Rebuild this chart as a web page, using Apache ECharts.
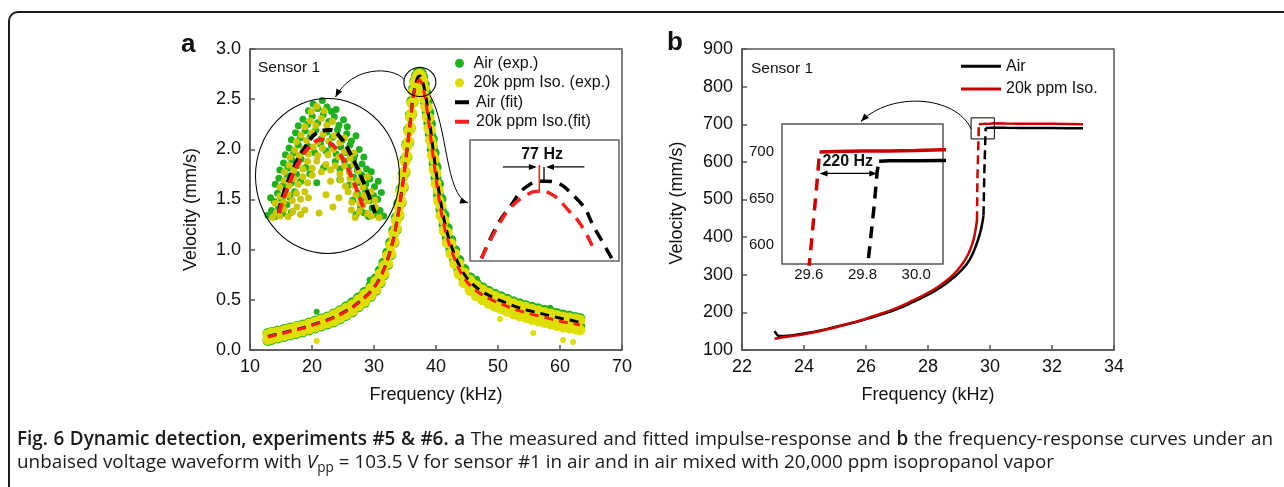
<!DOCTYPE html>
<html><head><meta charset="utf-8">
<script src="https://cdn.jsdelivr.net/npm/echarts@6/dist/echarts.min.js"></script>
<style>
html,body{margin:0;padding:0;background:#fff;width:1284px;height:487px;overflow:hidden;}
#frame{position:absolute;left:8px;top:11px;width:1400px;height:600px;border:2px solid #1a1a1a;border-radius:10px;box-sizing:border-box;}
#chart{position:absolute;left:0;top:0;width:1284px;height:487px;}
.cap{position:absolute;left:17px;font-family:'Open Sans',sans-serif;color:#1a1a1a;white-space:nowrap;line-height:22px;font-size:16px;}
.cap b{font-weight:600;}
.cap sub{font-size:0.72em;vertical-align:-0.3em;line-height:0;}
</style></head><body>
<div id="frame"></div>
<div id="chart"></div>
<div class="cap" id="cap1" style="top:427px"><b>Fig. 6 Dynamic detection, experiments #5 &amp; #6. a</b> The measured and fitted impulse-response and <b>b</b> the frequency-response curves under an</div>
<div class="cap" id="cap2" style="top:450px">unbaised voltage waveform with <i>V</i><sub>pp</sub> = 103.5 V for sensor #1 in air and in air mixed with 20,000 ppm isopropanol vapor</div>
<script>
// ================= DATA =================
// Panel a: impulse response (kHz, mm/s)
const expF = [12.9,13.5,14.5,15.5,16.5,17.5,18.5,19.5,20.5,21.5,22.5,23.5,24.5,25.5,26.5,27.5,28.5,29.5,30.3,31.0,31.6,32.2,32.7,33.2,33.6,34.0,34.35,34.7,35.0,35.3,35.6,35.85,36.1,36.35,36.6,36.85,37.1,37.35,37.6,37.85,38.1,38.35,38.6,38.85,39.1,39.4,39.7,40.0,40.4,40.8,41.3,41.8,42.4,43.0,43.7,44.5,45.5,46.5,47.5,48.5,49.5,50.5,51.5,52.5,53.5,54.5,55.5,56.5,57.5,58.5,59.5,60.5,61.5,62.5,63.2];
const airExpHi = [0.165,0.175,0.19,0.205,0.22,0.235,0.25,0.27,0.29,0.31, 0.33,0.36,0.39,0.43,0.47,0.52,0.575,0.64,0.71,0.79, 0.87,0.97,1.07,1.19,1.32,1.46,1.60,1.75,1.90,2.05, 2.20,2.34,2.48,2.60,2.68,2.73,2.76,2.77,2.76,2.72, 2.645,2.565,2.475,2.365,2.255,2.105,1.965,1.825,1.655,1.505, 1.345,1.215,1.095,0.995,0.895,0.805,0.72,0.665,0.62,0.585, 0.555,0.53,0.505,0.48,0.46,0.44,0.425,0.41,0.395,0.38, 0.365,0.35,0.34,0.325,0.315];
const airExpLo = [0.095,0.105,0.12,0.135,0.15,0.165,0.18,0.20,0.22,0.24, 0.26,0.28,0.31,0.345,0.38,0.43,0.475,0.535,0.595,0.67, 0.75,0.85,0.95,1.07,1.20,1.34,1.47,1.62,1.77,1.92, 2.07,2.21,2.35,2.47,2.56,2.62,2.66,2.67,2.66,2.61, 2.55,2.46,2.37,2.26,2.15,2.00,1.86,1.72,1.55,1.40, 1.25,1.12,1.00,0.90,0.80,0.71,0.63,0.575,0.535,0.50, 0.47,0.445,0.42,0.395,0.375,0.355,0.34,0.325,0.31,0.295, 0.28,0.265,0.255,0.245,0.235];
const isoExpHi = [0.155,0.17,0.18,0.195,0.21,0.23,0.24,0.26,0.28,0.30, 0.32,0.35,0.38,0.415,0.45,0.50,0.555,0.615,0.685,0.76, 0.84,0.94,1.04,1.16,1.29,1.43,1.58,1.73,1.88,2.03, 2.18,2.32,2.46,2.58,2.66,2.71,2.74,2.75,2.73,2.68, 2.61,2.52,2.42,2.31,2.19,2.04,1.90,1.76,1.59,1.44, 1.29,1.17,1.06,0.96,0.86,0.77,0.695,0.64,0.60,0.565, 0.535,0.51,0.485,0.46,0.44,0.425,0.405,0.39,0.375,0.36, 0.345,0.33,0.32,0.31,0.30];
const isoExpLo = [0.105,0.115,0.13,0.145,0.16,0.175,0.19,0.21,0.23,0.25, 0.27,0.29,0.32,0.355,0.39,0.44,0.485,0.545,0.605,0.68, 0.76,0.86,0.96,1.08,1.21,1.35,1.48,1.63,1.78,1.93, 2.08,2.22,2.36,2.47,2.55,2.60,2.63,2.64,2.62,2.57, 2.51,2.42,2.32,2.21,2.09,1.94,1.80,1.66,1.49,1.34, 1.19,1.07,0.96,0.86,0.76,0.67,0.595,0.54,0.50,0.465, 0.435,0.41,0.385,0.36,0.34,0.325,0.305,0.29,0.275,0.26, 0.245,0.23,0.22,0.21,0.20];
const airExpOut = [[20.75,0.38],[46.6,0.71],[58.4,0.42],[29.3,0.70]];
const isoExpOut = [[20.75,0.09],[55.7,0.17],[60.5,0.10],[62.1,0.08],[50.3,0.31]];
const airFit = [0.135,0.145,0.16,0.175,0.19,0.205,0.22,0.24,0.26,0.28, 0.30,0.325,0.355,0.39,0.425,0.475,0.525,0.585,0.65,0.725, 0.805,0.905,1.005,1.125,1.255,1.395,1.535,1.685,1.835,1.985, 2.14,2.28,2.42,2.54,2.62,2.68,2.72,2.73,2.72,2.67, 2.61,2.53,2.43,2.32,2.21,2.06,1.92,1.78,1.61,1.46, 1.30,1.17,1.05,0.95,0.85,0.76,0.68,0.625,0.58,0.545, 0.515,0.49,0.465,0.44,0.42,0.40,0.385,0.37,0.355,0.34, 0.325,0.31,0.30,0.285,0.275];
const isoFit = [0.13,0.14,0.155,0.17,0.185,0.20,0.215,0.235,0.255,0.275, 0.295,0.32,0.35,0.385,0.42,0.47,0.52,0.58,0.645,0.72, 0.80,0.90,1.00,1.12,1.25,1.39,1.53,1.68,1.83,1.98, 2.13,2.27,2.41,2.52,2.60,2.65,2.68,2.69,2.67,2.62, 2.56,2.47,2.37,2.26,2.14,1.99,1.85,1.71,1.54,1.39, 1.24,1.12,1.01,0.91,0.81,0.72,0.645,0.59,0.55,0.515, 0.485,0.46,0.435,0.41,0.39,0.375,0.355,0.34,0.325,0.31, 0.295,0.28,0.27,0.26,0.25];

// Circle inset (peak close-up) – measured points [kHz, mm/s]
const circleAirPts = [
 [36.04,2.462],[36.12,2.478],[36.2,2.458],[36.27,2.49],[36.36,2.468],[36.45,2.497],[36.55,2.472],[37.95,2.465],[38.05,2.49],[38.13,2.47],[38.22,2.458],[38.3,2.486],[38.38,2.466],[38.47,2.478],[38.55,2.46],
 [36.1,2.52],[36.18,2.508],[36.25,2.535],[36.34,2.515],[36.42,2.545],[36.52,2.522],[36.62,2.54],[37.88,2.512],[37.98,2.535],[38.06,2.518],[38.15,2.545],[38.24,2.51],[38.33,2.528],[38.42,2.515],[38.5,2.538],
 [36.2,2.565],[36.28,2.585],[36.37,2.56],[36.46,2.592],[36.55,2.57],[36.66,2.598],[36.75,2.575],[37.8,2.562],[37.9,2.588],[37.98,2.57],[38.07,2.596],[38.16,2.566],[38.25,2.582],[38.35,2.557],[38.43,2.575],
 [36.3,2.612],[36.38,2.635],[36.47,2.618],[36.56,2.645],[36.66,2.625],[36.76,2.648],[36.86,2.62],[37.5,2.64],[37.6,2.615],[37.7,2.642],[37.8,2.622],[37.9,2.648],[37.98,2.61],[38.08,2.632],[38.18,2.615],[38.28,2.606],
 [36.42,2.662],[36.5,2.685],[36.6,2.668],[36.7,2.695],[36.8,2.672],[36.92,2.69],[37.05,2.67],[37.18,2.698],[37.3,2.675],[37.42,2.692],[37.52,2.665],[37.62,2.688],[37.72,2.67],[37.82,2.695],[37.92,2.66],[38.02,2.68],[38.12,2.655],
 [36.55,2.712],[36.64,2.735],[36.74,2.718],[36.85,2.742],[36.96,2.722],[37.08,2.745],[37.2,2.715],[37.32,2.738],[37.44,2.72],[37.55,2.745],[37.65,2.71],[37.75,2.732],[37.85,2.708],[37.95,2.725],
 [36.7,2.758],[36.8,2.78],[36.9,2.762],[37.0,2.79],[37.12,2.768],[37.24,2.795],[37.36,2.772],[37.48,2.788],[37.58,2.76],[37.68,2.778],[37.76,2.755],
 [36.92,2.808],[37.02,2.83],[37.12,2.815],[37.22,2.842],[37.32,2.82],[37.42,2.805],[37.52,2.812],
 [36.95,2.6],[37.25,2.62],[37.1,2.57],[37.6,2.58]
];
const circleIsoPts = [
 [36.14,2.455],[36.22,2.47],[36.3,2.46],[36.39,2.482],[36.48,2.458],[36.58,2.475],[36.67,2.49],[36.75,2.465],[36.84,2.48],[37.15,2.47],[37.45,2.49],[37.85,2.48],[37.93,2.455],[38.02,2.475],[38.1,2.495],[38.2,2.468],[38.28,2.46],[38.37,2.49],[38.45,2.455],
 [36.2,2.502],[36.3,2.525],[36.38,2.505],[36.48,2.53],[36.57,2.51],[36.66,2.535],[36.75,2.515],[36.84,2.54],[36.92,2.52],[37.3,2.53],[37.58,2.52],[37.78,2.54],[37.86,2.505],[37.95,2.53],[38.03,2.502],[38.12,2.528],[38.2,2.51],[38.28,2.54],[38.36,2.512],
 [36.3,2.555],[36.4,2.578],[36.5,2.56],[36.6,2.585],[36.7,2.565],[36.8,2.59],[36.9,2.57],[37.0,2.595],[37.4,2.575],[37.62,2.58],[37.72,2.558],[37.82,2.585],[37.9,2.562],[38.0,2.578],[38.1,2.555],[38.2,2.59],
 [36.4,2.605],[36.5,2.628],[36.6,2.61],[36.7,2.635],[36.8,2.615],[36.9,2.64],[37.0,2.618],[37.1,2.642],[37.2,2.606],[37.3,2.63],[37.4,2.612],[37.5,2.626],[37.6,2.6],[37.7,2.625],[37.8,2.605],[37.9,2.63],[38.0,2.61],
 [36.52,2.655],[36.62,2.678],[36.72,2.66],[36.82,2.682],[36.92,2.665],[37.02,2.688],[37.12,2.66],[37.22,2.684],[37.34,2.662],[37.46,2.68],[37.58,2.655],[37.7,2.672],[37.82,2.65],[37.9,2.668],
 [36.66,2.705],[36.76,2.728],[36.88,2.71],[37.0,2.735],[37.12,2.705],[37.24,2.73],[37.36,2.708],[37.48,2.725],[37.6,2.702],[37.7,2.718],
 [36.84,2.755],[36.96,2.775],[37.08,2.758],[37.2,2.782],[37.32,2.76],[37.44,2.772],
 [36.98,2.805],[37.1,2.822],[37.26,2.808]
];
const circleAirFitF = [36.28,36.34,36.52,36.81,37.17,37.39,37.57,37.86,38.15,38.36];
const circleAirFitV = [2.47,2.513,2.59,2.678,2.739,2.744,2.728,2.656,2.557,2.47];
const circleIsoFitF = [36.28,36.48,36.74,37.0,37.2,37.39,37.57,37.82,38.15];
const circleIsoFitV = [2.47,2.557,2.645,2.697,2.712,2.70,2.672,2.601,2.469];

// Rect inset (77 Hz peak shift)
const rectAirFitF = [36.34,36.59,36.81,37.08,37.38,37.90,38.23,38.48];
const rectAirFitV = [2.409,2.515,2.580,2.646,2.664,2.607,2.497,2.409];
const rectIsoFitF = [36.34,36.59,36.81,37.08,37.29,37.46,37.79,38.01,38.21];
const rectIsoFitV = [2.409,2.508,2.574,2.618,2.631,2.624,2.563,2.508,2.425];
const peakIso = 37.29, peakAir = 37.367;

// Panel b: frequency response (kHz, mm/s)
const airLowF = [23.05,23.1,23.15,23.25,23.4,23.7,24.0,24.5,25.0,25.5,26.0,26.5,27.0,27.5,28.0,28.4,28.8,29.1,29.35,29.55,29.68,29.75,29.79];
const airLowV = [150,144,139,137,137.5,140,144,151,161,171,182,195,209,227,247,266,291,314,341,378,411,437,458];
const airJumpF = [29.79,29.805,29.82,29.843,29.855,29.862];
const airJumpV = [458,520,580,641,680,690];
const airTopF = [29.862,29.9,30.0,30.1,30.5,31.0,31.5,32.0,32.5,33.0];
const airTopV = [690,690.5,690.5,691,690.5,690,690,690,689.5,689.5];
const isoLowF = [23.05,23.2,23.5,24.0,24.5,25.0,25.5,26.0,26.5,27.0,27.5,28.0,28.4,28.8,29.1,29.3,29.45,29.53,29.58];
const isoLowV = [130,132,136,142,150,160,171,183,197,212,231,252,272,299,328,355,388,418,445];
const isoJumpF = [29.58,29.595,29.61,29.63,29.64];
const isoJumpV = [445,560,604,666,700];
const isoTopF = [29.64,29.7,29.8,29.9,30.0,30.1,30.5,31.0,31.5,32.0,32.5,33.0];
const isoTopV = [700,700.5,701,701,701.5,702.5,702,701.5,701,701,700.5,700];

// ================= STYLE =================
const FONT = "'Liberation Sans', Arial, Helvetica, sans-serif";
const INK = '#111';
const AX = '#555';
const GREEN = '#1fb01f';
const YELLOW = '#dede00';
const YELLOW2 = '#cbc700';
const RED_A = '#ff1e1e';
const RED_B = '#c80000';

function zip(xs, ys){ return xs.map((x,i)=>[x, ys[i]]); }

const chart = echarts.init(document.getElementById('chart'), null, {renderer:'canvas'});

function mainX(grid, min, max, interval){
  return {gridIndex:grid, type:'value', min, max, interval,
    name:'Frequency (kHz)', nameLocation:'middle', nameGap:36,
    nameTextStyle:{fontSize:18, color:INK, fontFamily:FONT},
    axisLine:{show:true, lineStyle:{color:AX, width:1.5}},
    axisTick:{show:true, inside:true, length:5, lineStyle:{color:AX, width:1.5}},
    axisLabel:{fontSize:18, color:INK, fontFamily:FONT, margin:8},
    splitLine:{show:false}};
}
function mainY(grid, min, max, interval, gap, fmt, pad){
  return {gridIndex:grid, type:'value', min, max, interval,
    name:'Velocity (mm/s)', nameLocation:'middle', nameGap:gap,
    nameTextStyle:{fontSize:18, color:INK, fontFamily:FONT, padding:pad},
    axisLine:{show:true, lineStyle:{color:AX, width:1.5}},
    axisTick:{show:true, inside:true, length:5, lineStyle:{color:AX, width:1.5}},
    axisLabel:{fontSize:18, color:INK, fontFamily:FONT, margin:9, formatter:fmt},
    splitLine:{show:false}};
}

const series = [];
// ---- panel a main
series.push({name:'Air (exp.)', type:'scatter', xAxisIndex:0, yAxisIndex:0, symbolSize:11,
  data: zip(expF, airExpHi).concat(zip(expF, airExpLo)), itemStyle:{color:GREEN, opacity:1}});
series.push({name:'Air (exp.)', type:'scatter', xAxisIndex:0, yAxisIndex:0, symbolSize:6,
  data: airExpOut, itemStyle:{color:GREEN, opacity:1}});
series.push({name:'20k ppm Iso. (exp.)', type:'scatter', xAxisIndex:0, yAxisIndex:0, symbolSize:11,
  data: zip(expF, isoExpHi).concat(zip(expF, isoExpLo)), itemStyle:{color:YELLOW, opacity:1}});
series.push({name:'20k ppm Iso. (exp.)', type:'scatter', xAxisIndex:0, yAxisIndex:0, symbolSize:6,
  data: isoExpOut, itemStyle:{color:YELLOW, opacity:1}});
series.push({name:'Air (fit)', type:'line', xAxisIndex:0, yAxisIndex:0, data: zip(expF, airFit), smooth:true,
  symbol:'none', itemStyle:{color:'#000'}, lineStyle:{color:'#000', width:3, type:[9,6]}});
series.push({name:'20k ppm Iso.(fit)', type:'line', xAxisIndex:0, yAxisIndex:0, data: zip(expF, isoFit), smooth:true,
  symbol:'none', itemStyle:{color:RED_A}, lineStyle:{color:RED_A, width:3, type:[9,6]}});
// ---- circle inset
series.push({name:'Air (exp.)', type:'scatter', xAxisIndex:1, yAxisIndex:1, symbolSize:7,
  data: circleAirPts, itemStyle:{color:GREEN, opacity:1}});
series.push({name:'20k ppm Iso. (exp.)', type:'scatter', xAxisIndex:1, yAxisIndex:1, symbolSize:7,
  data: circleIsoPts, itemStyle:{color:YELLOW2, opacity:1}});
series.push({name:'Air (fit)', type:'line', xAxisIndex:1, yAxisIndex:1, data: zip(circleAirFitF, circleAirFitV), smooth:true,
  symbol:'none', itemStyle:{color:'#000'}, lineStyle:{color:'#000', width:4, type:[10,6]}});
series.push({name:'20k ppm Iso.(fit)', type:'line', xAxisIndex:1, yAxisIndex:1, data: zip(circleIsoFitF, circleIsoFitV), smooth:true,
  symbol:'none', itemStyle:{color:RED_A}, lineStyle:{color:RED_A, width:4, type:[10,6]}});
// ---- rect inset
series.push({name:'Air (fit)', type:'line', xAxisIndex:2, yAxisIndex:2, data: zip(rectAirFitF, rectAirFitV), smooth:true,
  symbol:'none', itemStyle:{color:'#000'}, lineStyle:{color:'#000', width:3.5, type:[12,8]}});
series.push({name:'20k ppm Iso.(fit)', type:'line', xAxisIndex:2, yAxisIndex:2, data: zip(rectIsoFitF, rectIsoFitV), smooth:true,
  symbol:'none', itemStyle:{color:RED_A}, lineStyle:{color:RED_A, width:3.5, type:[12,8]}});
// ---- panel b main + inset
function bSeries(ax, w, dash){
  const out = [];
  [['Air','#000',[airLowF,airLowV],[airJumpF,airJumpV],[airTopF,airTopV]],
   ['20k ppm Iso.',RED_B,[isoLowF,isoLowV],[isoJumpF,isoJumpV],[isoTopF,isoTopV]]].forEach(([nm,col,lo,jp,tp])=>{
    out.push({name:nm, type:'line', xAxisIndex:ax, yAxisIndex:ax, data:zip(lo[0],lo[1]), symbol:'none', smooth:true,
      itemStyle:{color:col}, lineStyle:{color:col, width:w}});
    out.push({name:nm, type:'line', xAxisIndex:ax, yAxisIndex:ax, data:zip(jp[0],jp[1]), symbol:'none',
      itemStyle:{color:col}, lineStyle:{color:col, width:w, type:dash}});
    out.push({name:nm, type:'line', xAxisIndex:ax, yAxisIndex:ax, data:zip(tp[0],tp[1]), symbol:'none',
      itemStyle:{color:col}, lineStyle:{color:col, width:w}});
  });
  return out;
}
bSeries(3, 2.5, [9,5]).forEach(s=>series.push(s));
bSeries(4, 3.5, [12,8]).forEach(s=>series.push(s));

const legendText = {fontSize:16, color:INK, fontFamily:FONT, lineHeight:19.5, padding:[0,0,0,2]};
chart.setOption({
  animation:false,
  grid:[
    {left:250, top:49, width:372, height:301, show:true, borderColor:AX, borderWidth:1.5},
    {left:266, top:98, width:120, height:121, show:false},
    {left:470, top:140, width:149, height:121, show:true, borderColor:'#666', borderWidth:1.5, backgroundColor:'#fff'},
    {left:742, top:49, width:372, height:301, show:true, borderColor:AX, borderWidth:1.5},
    {left:782, top:124, width:161, height:140, show:true, borderColor:AX, borderWidth:1.5, backgroundColor:'#fff'}
  ],
  xAxis:[
    mainX(0, 10, 70, 10),
    {gridIndex:1, type:'value', min:36.0, max:38.6, show:false, splitLine:{show:false}},
    {gridIndex:2, type:'value', min:36.15, max:38.6, show:false, splitLine:{show:false}},
    mainX(3, 22, 34, 2),
    {gridIndex:4, type:'value', min:29.5, max:30.1, interval:0.1,
      axisLine:{show:false}, axisTick:{show:false}, splitLine:{show:false},
      axisLabel:{fontSize:15, color:INK, fontFamily:FONT, margin:3,
        formatter:(v)=>{const k=Math.round(v*10); return k%2===0 ? (k/10).toFixed(1) : '';}}}
  ],
  yAxis:[
    mainY(0, 0, 3, 0.5, 50, (v)=>v.toFixed(1), [0,20,0,0]),
    {gridIndex:1, type:'value', min:2.45, max:2.85, show:false, splitLine:{show:false}},
    {gridIndex:2, type:'value', min:2.40, max:2.80, show:false, splitLine:{show:false}},
    mainY(3, 100, 900, 100, 56, (v)=>String(v), [0,7,0,0]),
    {gridIndex:4, type:'value', min:580, max:730, interval:10,
      axisLine:{show:false}, axisTick:{show:false}, splitLine:{show:false},
      axisLabel:{fontSize:15, color:INK, fontFamily:FONT, margin:8,
        formatter:(v)=>{const k=Math.round(v); return k%50===0 ? String(k) : '';}}}
  ],
  legend:[
    {data:['Air (exp.)','20k ppm Iso. (exp.)'], icon:'circle', orient:'vertical', left:455, top:53.5,
      itemWidth:14, itemHeight:9, itemGap:0, selectedMode:false, textStyle:legendText, padding:0},
    {data:['Air (fit)','20k ppm Iso.(fit)'], icon:'rect', orient:'vertical', left:455, top:92.5,
      itemWidth:14, itemHeight:4, itemGap:0, selectedMode:false, textStyle:legendText, padding:0},
    {data:['Air','20k ppm Iso.'], icon:'rect', orient:'vertical', left:961, top:55,
      itemWidth:40, itemHeight:3, itemGap:0, selectedMode:false,
      textStyle:{fontSize:16, color:INK, fontFamily:FONT, lineHeight:22.7}, padding:0}
  ],
  series
});

// ================= ANNOTATIONS =================
function px(g, pt){ return chart.convertToPixel({gridIndex:g}, pt); }
function head(tip, from, len, wid){
  const dx=tip[0]-from[0], dy=tip[1]-from[1], L=Math.hypot(dx,dy), ux=dx/L, uy=dy/L;
  const bx=tip[0]-ux*len, by=tip[1]-uy*len;
  return {type:'polygon', z:20, shape:{points:[tip,[bx-uy*wid,by+ux*wid],[bx+uy*wid,by-ux*wid]]}, style:{fill:'#000'}};
}
function seg(a, b, col, w){ return {type:'line', z:20, shape:{x1:a[0],y1:a[1],x2:b[0],y2:b[1]}, style:{stroke:col, lineWidth:w}}; }
function txt(x, y, s, size, weight, align){
  return {type:'text', z:20, x, y, style:{text:s, fontSize:size, fontWeight:weight||'normal', fontFamily:FONT, fill:INK,
    align:align||'left', verticalAlign:'middle'}};
}
function curve(p0, c1, c2, p3){
  return {type:'bezierCurve', z:20, shape:{x1:p0[0],y1:p0[1],cpx1:c1[0],cpy1:c1[1],cpx2:c2[0],cpy2:c2[1],x2:p3[0],y2:p3[1]},
    style:{stroke:'#000', lineWidth:1, fill:null}};
}

const CIRC = {cx:327.5, cy:176, rx:72, ry:77.5};
const P = px(0, [37.4, 2.67]);                 // small circle round the peak
const R1 = px(3, [29.39, 717]), R2 = px(3, [30.14, 661]);   // small box in b
const g = [];
g.push({type:'circle', z:1, x:CIRC.cx, y:CIRC.cy, scaleX:CIRC.rx/CIRC.ry, shape:{cx:0, cy:0, r:CIRC.ry}, style:{fill:'#fff', stroke:null}, silent:true});
g.push({type:'circle', z:19, x:CIRC.cx, y:CIRC.cy, scaleX:CIRC.rx/CIRC.ry, shape:{cx:0, cy:0, r:CIRC.ry}, style:{fill:null, stroke:'#000', lineWidth:1.1, strokeNoScale:true}, silent:true});
g.push({type:'circle', z:19, x:P[0], y:P[1], scaleX:16/14.5, shape:{cx:0, cy:0, r:14.5}, style:{fill:null, stroke:'#000', lineWidth:1, strokeNoScale:true}, silent:true});
const c1e = [CIRC.cx+8, CIRC.cy-CIRC.ry-1.5];
g.push(curve([P[0]-16, P[1]-3], [P[0]-28, P[1]-16], [P[0]-68, P[1]-16], c1e));
g.push(head(c1e, [P[0]-68, P[1]-16], 8, 3.2));
const c2e = [468, 203];
g.push(curve([P[0]+10, P[1]+13], [P[0]+28, P[1]+43], [P[0]+25, P[1]+113], c2e));
g.push(head(c2e, [P[0]+25, P[1]+113], 8, 3.2));
g.push({type:'rect', z:19, shape:{x:R1[0], y:R1[1], width:R2[0]-R1[0], height:R2[1]-R1[1]}, style:{fill:null, stroke:'#000', lineWidth:1}});
const c3s = [R1[0], R1[1]+11], c3e = [861, 121.5];
g.push(curve(c3s, [c3s[0]-16, c3s[1]-34], [c3s[0]-81, c3s[1]-37], c3e));
g.push(head(c3e, [c3s[0]-81, c3s[1]-37], 8, 3.2));
g.push(seg(px(2,[peakIso,2.717]), px(2,[peakIso,2.624]), RED_A, 1.6));
g.push(seg(px(2,[peakAir,2.711]), px(2,[peakAir,2.664]), '#000', 1.3));
const aL0 = px(2,[36.69,2.711]), aL1 = px(2,[37.25,2.711]);
g.push(seg(aL0, [aL1[0]-6, aL1[1]], '#000', 1.2)); g.push(head(aL1, aL0, 8, 3));
const aR0 = px(2,[38.03,2.711]), aR1 = px(2,[37.40,2.711]);
g.push(seg(aR0, [aR1[0]+6, aR1[1]], '#000', 1.2)); g.push(head(aR1, aR0, 8, 3));
const t77 = px(2,[37.335,2.752]);
g.push(txt(t77[0], t77[1], '77 Hz', 16, 'bold', 'center'));
const d0 = px(4,[29.64,677]), d1 = px(4,[29.855,677]);
g.push(seg([d0[0]+6,d0[1]], [d1[0]-6,d1[1]], '#000', 1.2));
g.push(head(d0, d1, 8, 3)); g.push(head(d1, d0, 8, 3));
const t220 = px(4,[29.745,690]);
g.push(txt(t220[0], t220[1], '220 Hz', 16, 'bold', 'center'));
g.push(txt(258, 67.7, 'Sensor 1', 15.5));
g.push(txt(751, 69, 'Sensor 1', 15.5));
g.push(txt(181, 45, 'a', 26, 'bold'));
g.push(txt(667, 42.5, 'b', 26, 'bold'));
chart.setOption({graphic:{elements:g}});

// ================= CAPTION FIT =================
(function(){
  const c1 = document.getElementById('cap1'), c2 = document.getElementById('cap2');
  const w2 = c2.getBoundingClientRect().width;
  const fs = 16 * 1038 / w2;
  c1.style.fontSize = fs + 'px'; c2.style.fontSize = fs + 'px';
  const w1 = c1.getBoundingClientRect().width;
  const n = (c1.textContent.match(/ /g) || []).length;
  c1.style.wordSpacing = ((1256 - w1) / n) + 'px';
})();
</script>
</body></html>
